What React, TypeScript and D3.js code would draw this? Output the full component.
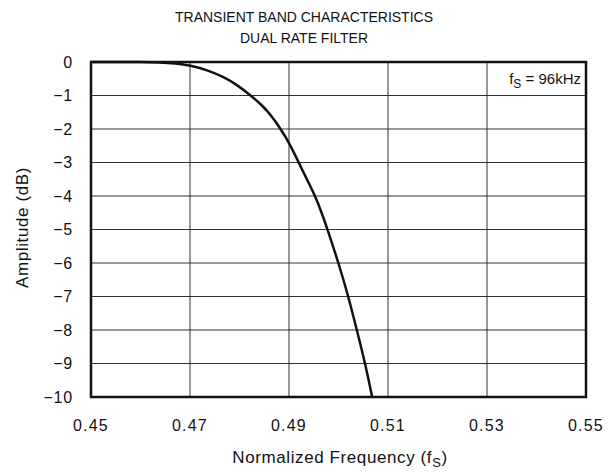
import React from "react";
import * as d3 from "d3";

const title1 = "TRANSIENT BAND CHARACTERISTICS";
const title2 = "DUAL RATE FILTER";
const xTicks = [0.45, 0.47, 0.49, 0.51, 0.53, 0.55];
const yTicks = [0, -1, -2, -3, -4, -5, -6, -7, -8, -9, -10];
const freq = [0.45, 0.455, 0.46, 0.464, 0.467, 0.47, 0.4735, 0.4767, 0.4795, 0.4821, 0.4848, 0.4865, 0.4882, 0.49, 0.4918, 0.4935, 0.4953, 0.4966, 0.4978, 0.5, 0.502, 0.5037, 0.5054, 0.5068];
const amp = [0, 0, 0, -0.01, -0.04, -0.1, -0.24, -0.44, -0.68, -0.98, -1.32, -1.62, -1.97, -2.4, -2.95, -3.47, -4.0, -4.5, -5.0, -6.0, -7.0, -8.0, -9.0, -10.0];

const W = 612, H = 474;
const M = { left: 91, right: 586, top: 62, bottom: 397 };
const FONT = "'Liberation Sans', Arial, Helvetica, sans-serif";

export default function App() {
  const x = d3.scaleLinear().domain([0.45, 0.55]).range([M.left, M.right]);
  const y = d3.scaleLinear().domain([0, -10]).range([M.top, M.bottom]);
  const line = d3.line<number>().x((_, i) => x(freq[i])).y((d) => y(d)).curve(d3.curveBasis);
  const path = line(amp) || "";
  return (
    <div style={{ position: "absolute", left: 0, top: 0 }}>
      <svg width={W} height={H} style={{ display: "block", background: "#fff" }} fontFamily={FONT}>
        <text x={304} y={22} textAnchor="middle" fontSize={14} fill="#111">{title1}</text>
        <text x={304} y={43} textAnchor="middle" fontSize={14} fill="#111">{title2}</text>
        {yTicks.slice(1, -1).map((t) => (
          <line key={"gy" + t} x1={M.left} x2={M.right} y1={y(t)} y2={y(t)} stroke="#333" strokeWidth={1} />
        ))}
        {xTicks.slice(1, -1).map((t) => (
          <line key={"gx" + t} x1={x(t)} x2={x(t)} y1={M.top} y2={M.bottom} stroke="#333" strokeWidth={1} />
        ))}
        <rect x={x(0.53) + 3} y={68} width={x(0.55) - x(0.53) - 6} height={22} fill="#fff" />
        <text x={x(0.55) - 5} y={84} textAnchor="end" fontSize={15} fill="#111">
          <tspan>f</tspan>
          <tspan fontSize={12} dy={4}>S</tspan>
          <tspan dy={-4}> = 96kHz</tspan>
        </text>
        <path d={path} fill="none" stroke="#111" strokeWidth={2.5} />
        <rect x={M.left} y={M.top} width={M.right - M.left} height={M.bottom - M.top} fill="none" stroke="#111" strokeWidth={2.5} />
        {yTicks.map((t) => (
          <text key={"yt" + t} x={73} y={y(t)} dy="0.36em" textAnchor="end" fontSize={16} letterSpacing={0.8} fill="#111">
            {t === 0 ? "0" : "\u2212" + Math.abs(t)}
          </text>
        ))}
        {xTicks.map((t) => (
          <text key={"xt" + t} x={x(t)} y={431} textAnchor="middle" fontSize={16} letterSpacing={1.2} fill="#111">
            {t.toFixed(2)}
          </text>
        ))}
        <text x={340} y={463} textAnchor="middle" fontSize={17} letterSpacing={0.6} fill="#111">
          <tspan>Normalized Frequency (f</tspan>
          <tspan fontSize={13} dy={4}>S</tspan>
          <tspan dy={-4}>)</tspan>
        </text>
        <text transform={`translate(28,${(M.top + M.bottom) / 2 - 2}) rotate(-90)`} textAnchor="middle" fontSize={17} letterSpacing={0.6} fill="#111">
          Amplitude (dB)
        </text>
      </svg>
    </div>
  );
}
